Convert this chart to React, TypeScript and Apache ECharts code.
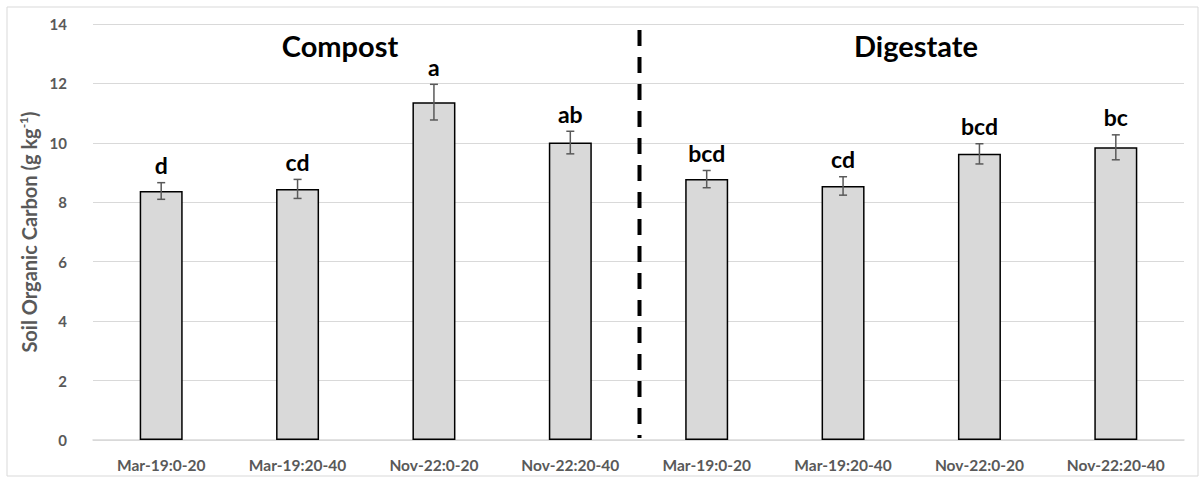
import React, { useEffect, useRef } from "react";
import * as echarts from "echarts";

const categories = [
  "Mar-19:0-20", "Mar-19:20-40", "Nov-22:0-20", "Nov-22:20-40",
  "Mar-19:0-20", "Mar-19:20-40", "Nov-22:0-20", "Nov-22:20-40",
];
const values = [8.38, 8.45, 11.37, 10.01, 8.78, 8.55, 9.63, 9.85];
const errors = [0.28, 0.32, 0.6, 0.38, 0.29, 0.31, 0.34, 0.42];
const letters = ["d", "cd", "a", "ab", "bcd", "cd", "bcd", "bc"];
const groupTitles = ["Compost", "Digestate"];
const yTicks = [0, 2, 4, 6, 8, 10, 12, 14];

const FONT = "Lato, 'Open Sans', sans-serif";

export default function App() {
  const ref = useRef<HTMLDivElement>(null);
  useEffect(() => {
    document.body.style.margin = "0";
    const chart = echarts.init(ref.current!, null, { renderer: "svg" });
    const gridLeft = 93, gridRight = 17, gridTop = 24, gridBottom = 41;
    const plotW = 1201 - gridLeft - gridRight;
    const bandW = plotW / categories.length;
    const sepX = gridLeft + bandW * 4 + 1;
    const option: any = {
      animation: false,
      backgroundColor: "#fff",
      grid: { left: gridLeft, right: gridRight, top: gridTop, bottom: gridBottom, containLabel: false },
      xAxis: {
        type: "category",
        data: categories,
        axisLine: { lineStyle: { color: "#d9d9d9", width: 1.5 } },
        axisTick: { show: false },
        axisLabel: { color: "#595959", fontWeight: "bold", fontSize: 15.5, fontFamily: FONT, margin: 17, interval: 0 },
      },
      yAxis: {
        type: "value",
        min: yTicks[0],
        max: yTicks[yTicks.length - 1],
        interval: 2,
        axisLine: { show: false },
        axisTick: { show: false },
        splitLine: { lineStyle: { color: "#d9d9d9", width: 1.2 } },
        axisLabel: { color: "#595959", fontWeight: "bold", fontSize: 15, fontFamily: FONT, margin: 26 },
        name: "{n|Soil Organic Carbon (g kg}{s|-1}{n|)}",
        nameLocation: "middle",
        nameGap: 52,
        nameRotate: 90,
        nameTextStyle: {
          rich: {
            n: { color: "#595959", fontWeight: "bold", fontSize: 20, fontFamily: FONT },
            s: { color: "#595959", fontWeight: "bold", fontSize: 12, fontFamily: FONT, verticalAlign: "top", padding: [0, 0, 10, 0] },
          },
        },
      },
      series: [
        {
          type: "bar",
          data: values,
          barWidth: 43,
          itemStyle: { color: "#d9d9d9", borderColor: "#000", borderWidth: 1.5 },
        },
        {
          type: "custom",
          data: values.map((v, i) => [i, v - errors[i], v + errors[i]]),
          renderItem: (params: any, api: any) => {
            const i = api.value(0);
            const lo = api.coord([i, api.value(1)]);
            const hi = api.coord([i, api.value(2)]);
            const x = lo[0];
            const cap = 4;
            const st = { stroke: "#595959", lineWidth: 1.5 };
            return {
              type: "group",
              children: [
                { type: "line", shape: { x1: x, y1: lo[1], x2: x, y2: hi[1] }, style: st },
                { type: "line", shape: { x1: x - cap, y1: lo[1], x2: x + cap, y2: lo[1] }, style: st },
                { type: "line", shape: { x1: x - cap, y1: hi[1], x2: x + cap, y2: hi[1] }, style: st },
                {
                  type: "text",
                  style: {
                    text: letters[params.dataIndex],
                    x: x,
                    y: hi[1] - 6,
                    textAlign: "center",
                    textVerticalAlign: "bottom",
                    fill: "#000",
                    font: `bold 23px ${FONT}`,
                  },
                },
              ],
            };
          },
          z: 5,
        },
      ],
      graphic: [
        {
          type: "rect",
          shape: { x: 7, y: 7, width: 1191, height: 469 },
          style: { fill: "none", stroke: "#d9d9d9", lineWidth: 1 },
          silent: true,
        },
        {
          type: "line",
          shape: { x1: sepX, y1: 30, x2: sepX, y2: 438 },
          style: { stroke: "#000", lineWidth: 4, lineDash: [16, 11] },
          z: 10,
        },
        {
          type: "text",
          style: {
            text: groupTitles[0], x: 340, y: 45,
            textAlign: "center", textVerticalAlign: "middle",
            fill: "#000", font: `bold 29px ${FONT}`,
          },
        },
        {
          type: "text",
          style: {
            text: groupTitles[1], x: 916, y: 45,
            textAlign: "center", textVerticalAlign: "middle",
            fill: "#000", font: `bold 29px ${FONT}`,
          },
        },
      ],
    };
    chart.setOption(option);
    return () => chart.dispose();
  }, []);
  return <div ref={ref} style={{ width: 1201, height: 481 }} />;
}
